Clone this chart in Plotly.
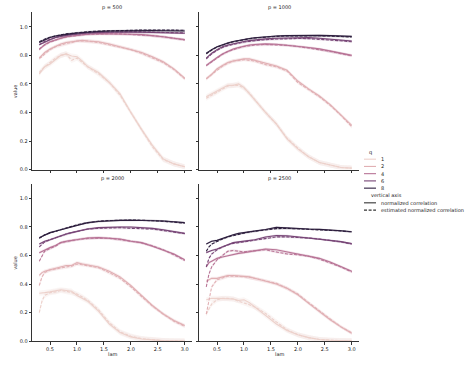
import numpy as np
import plotly.graph_objects as go

# ---------------- data ----------------
LAM = [0.3, 0.35, 0.4, 0.5, 0.6, 0.7, 0.8, 0.9, 1.0, 1.1, 1.2, 1.4, 1.6, 1.8, 2.0, 2.2, 2.4, 2.6, 2.8, 3.0]
P_VALUES = [500, 1000, 2000, 2500]
Q_VALUES = [1, 2, 4, 6, 8]
X_TICKS = [0.5, 1.0, 1.5, 2.0, 2.5, 3.0]
Y_TICKS = [0.0, 0.2, 0.4, 0.6, 0.8, 1.0]
STYLE_LABELS = ["normalized correlation", "estimated normalized correlation"]

P500_NORM = {
    1: [0.67, 0.70, 0.72, 0.74, 0.77, 0.80, 0.81, 0.795, 0.79, 0.76, 0.72, 0.68, 0.61, 0.53, 0.40, 0.28, 0.17, 0.075, 0.04, 0.02],
    2: [0.78, 0.80, 0.82, 0.845, 0.865, 0.88, 0.89, 0.895, 0.905, 0.905, 0.90, 0.895, 0.88, 0.86, 0.845, 0.82, 0.79, 0.755, 0.705, 0.64],
    4: [0.84, 0.86, 0.875, 0.895, 0.91, 0.92, 0.93, 0.935, 0.94, 0.945, 0.948, 0.952, 0.952, 0.95, 0.948, 0.945, 0.94, 0.93, 0.92, 0.91],
    6: [0.875, 0.885, 0.895, 0.91, 0.925, 0.935, 0.94, 0.945, 0.95, 0.953, 0.956, 0.96, 0.962, 0.963, 0.963, 0.962, 0.96, 0.958, 0.957, 0.955],
    8: [0.89, 0.90, 0.91, 0.925, 0.935, 0.942, 0.948, 0.952, 0.956, 0.96, 0.963, 0.967, 0.97, 0.972, 0.973, 0.973, 0.973, 0.972, 0.972, 0.97],
}
P500_EST = {
    1: [0.68, 0.70, 0.72, 0.75, 0.78, 0.80, 0.81, 0.765, 0.78, 0.75, 0.72, 0.67, 0.61, 0.52, 0.40, 0.28, 0.16, 0.07, 0.04, 0.02],
    2: [0.78, 0.79, 0.81, 0.84, 0.86, 0.875, 0.885, 0.89, 0.90, 0.90, 0.90, 0.89, 0.875, 0.86, 0.84, 0.815, 0.785, 0.75, 0.70, 0.635],
    4: [0.845, 0.86, 0.873, 0.893, 0.908, 0.92, 0.928, 0.935, 0.94, 0.944, 0.947, 0.95, 0.951, 0.95, 0.947, 0.944, 0.938, 0.93, 0.92, 0.908],
    6: [0.875, 0.887, 0.897, 0.912, 0.926, 0.936, 0.942, 0.947, 0.952, 0.955, 0.958, 0.962, 0.964, 0.965, 0.965, 0.964, 0.962, 0.96, 0.959, 0.957],
    8: [0.895, 0.905, 0.913, 0.927, 0.937, 0.944, 0.95, 0.955, 0.959, 0.963, 0.966, 0.97, 0.973, 0.975, 0.976, 0.977, 0.977, 0.977, 0.977, 0.976],
}

P1000_NORM = {
    1: [0.51, 0.52, 0.53, 0.55, 0.575, 0.59, 0.59, 0.60, 0.575, 0.53, 0.49, 0.40, 0.32, 0.215, 0.145, 0.09, 0.05, 0.03, 0.015, 0.01],
    2: [0.637, 0.65, 0.667, 0.706, 0.73, 0.75, 0.76, 0.77, 0.775, 0.775, 0.765, 0.745, 0.725, 0.695, 0.62, 0.565, 0.515, 0.455, 0.385, 0.31],
    4: [0.73, 0.745, 0.76, 0.785, 0.81, 0.83, 0.845, 0.855, 0.865, 0.872, 0.876, 0.88, 0.878, 0.872, 0.865, 0.855, 0.845, 0.83, 0.815, 0.80],
    6: [0.78, 0.80, 0.815, 0.84, 0.86, 0.872, 0.882, 0.89, 0.897, 0.903, 0.908, 0.915, 0.92, 0.923, 0.925, 0.924, 0.92, 0.915, 0.908, 0.90],
    8: [0.815, 0.83, 0.84, 0.86, 0.875, 0.887, 0.897, 0.905, 0.912, 0.918, 0.923, 0.93, 0.935, 0.938, 0.94, 0.94, 0.94, 0.938, 0.936, 0.933],
}
P1000_EST = {
    1: [0.50, 0.51, 0.52, 0.545, 0.565, 0.585, 0.59, 0.59, 0.57, 0.535, 0.49, 0.40, 0.32, 0.22, 0.15, 0.09, 0.05, 0.03, 0.015, 0.01],
    2: [0.635, 0.65, 0.665, 0.70, 0.725, 0.745, 0.76, 0.765, 0.77, 0.765, 0.76, 0.735, 0.72, 0.69, 0.61, 0.56, 0.51, 0.45, 0.38, 0.30],
    4: [0.728, 0.742, 0.757, 0.783, 0.807, 0.827, 0.842, 0.852, 0.862, 0.868, 0.872, 0.876, 0.875, 0.87, 0.862, 0.852, 0.842, 0.828, 0.812, 0.797],
    6: [0.775, 0.795, 0.81, 0.835, 0.855, 0.868, 0.878, 0.886, 0.893, 0.898, 0.903, 0.91, 0.914, 0.917, 0.918, 0.917, 0.913, 0.908, 0.902, 0.895],
    8: [0.81, 0.825, 0.837, 0.858, 0.873, 0.885, 0.895, 0.903, 0.91, 0.916, 0.921, 0.928, 0.933, 0.936, 0.938, 0.938, 0.937, 0.935, 0.932, 0.928],
}

P2000_NORM = {
    1: [0.336, 0.34, 0.34, 0.345, 0.35, 0.36, 0.355, 0.35, 0.32, 0.30, 0.28, 0.21, 0.12, 0.06, 0.03, 0.015, 0.008, 0.004, 0.002, 0.001],
    2: [0.46, 0.48, 0.49, 0.50, 0.51, 0.52, 0.53, 0.53, 0.55, 0.54, 0.535, 0.52, 0.49, 0.45, 0.39, 0.32, 0.25, 0.19, 0.145, 0.11],
    4: [0.62, 0.63, 0.64, 0.655, 0.67, 0.69, 0.70, 0.705, 0.713, 0.718, 0.722, 0.725, 0.722, 0.715, 0.70, 0.69, 0.665, 0.64, 0.61, 0.57],
    6: [0.68, 0.69, 0.70, 0.71, 0.725, 0.74, 0.75, 0.76, 0.77, 0.78, 0.785, 0.795, 0.80, 0.80, 0.80, 0.797, 0.79, 0.78, 0.768, 0.755],
    8: [0.725, 0.735, 0.745, 0.76, 0.77, 0.78, 0.795, 0.805, 0.815, 0.825, 0.83, 0.838, 0.843, 0.846, 0.847, 0.846, 0.845, 0.842, 0.836, 0.83],
}
P2000_EST = {
    1: [0.20, 0.28, 0.32, 0.34, 0.345, 0.355, 0.35, 0.34, 0.33, 0.31, 0.285, 0.22, 0.13, 0.065, 0.035, 0.018, 0.009, 0.004, 0.002, 0.001],
    2: [0.39, 0.45, 0.48, 0.50, 0.505, 0.515, 0.52, 0.525, 0.54, 0.535, 0.53, 0.515, 0.48, 0.44, 0.38, 0.31, 0.245, 0.19, 0.14, 0.105],
    4: [0.56, 0.60, 0.63, 0.65, 0.665, 0.69, 0.70, 0.705, 0.71, 0.715, 0.72, 0.722, 0.72, 0.712, 0.70, 0.688, 0.668, 0.64, 0.605, 0.565],
    6: [0.66, 0.68, 0.695, 0.71, 0.725, 0.74, 0.75, 0.76, 0.768, 0.778, 0.785, 0.79, 0.795, 0.795, 0.79, 0.79, 0.785, 0.775, 0.765, 0.753],
    8: [0.72, 0.735, 0.745, 0.758, 0.77, 0.782, 0.795, 0.805, 0.815, 0.823, 0.83, 0.84, 0.845, 0.848, 0.848, 0.847, 0.845, 0.84, 0.834, 0.826],
}

P2500_NORM = {
    1: [0.29, 0.295, 0.30, 0.30, 0.30, 0.30, 0.295, 0.285, 0.29, 0.27, 0.24, 0.18, 0.12, 0.075, 0.045, 0.025, 0.012, 0.006, 0.003, 0.002],
    2: [0.42, 0.43, 0.44, 0.44, 0.45, 0.46, 0.46, 0.458, 0.455, 0.45, 0.44, 0.42, 0.40, 0.37, 0.325, 0.265, 0.205, 0.15, 0.10, 0.055],
    4: [0.52, 0.55, 0.56, 0.58, 0.59, 0.60, 0.61, 0.615, 0.62, 0.625, 0.63, 0.645, 0.64, 0.625, 0.615, 0.60, 0.58, 0.555, 0.525, 0.49],
    6: [0.62, 0.63, 0.635, 0.645, 0.66, 0.68, 0.69, 0.695, 0.70, 0.705, 0.71, 0.73, 0.74, 0.738, 0.73, 0.725, 0.718, 0.71, 0.697, 0.683],
    8: [0.68, 0.69, 0.70, 0.706, 0.72, 0.735, 0.745, 0.755, 0.76, 0.767, 0.772, 0.782, 0.797, 0.792, 0.787, 0.785, 0.783, 0.78, 0.773, 0.766],
}
P2500_EST = {
    1: [0.19, 0.23, 0.26, 0.29, 0.30, 0.30, 0.295, 0.28, 0.27, 0.255, 0.24, 0.195, 0.135, 0.08, 0.045, 0.025, 0.012, 0.006, 0.003, 0.002],
    2: [0.19, 0.30, 0.38, 0.43, 0.44, 0.455, 0.455, 0.455, 0.452, 0.448, 0.44, 0.425, 0.405, 0.37, 0.33, 0.27, 0.21, 0.155, 0.10, 0.058],
    4: [0.38, 0.47, 0.52, 0.57, 0.60, 0.63, 0.635, 0.63, 0.625, 0.63, 0.635, 0.64, 0.625, 0.61, 0.605, 0.595, 0.575, 0.55, 0.52, 0.485],
    6: [0.52, 0.58, 0.61, 0.64, 0.66, 0.675, 0.685, 0.69, 0.695, 0.70, 0.705, 0.72, 0.73, 0.73, 0.728, 0.722, 0.715, 0.707, 0.695, 0.68],
    8: [0.63, 0.66, 0.68, 0.70, 0.715, 0.73, 0.74, 0.75, 0.758, 0.765, 0.77, 0.78, 0.788, 0.79, 0.787, 0.785, 0.783, 0.78, 0.772, 0.765],
}

# half-width of the confidence band per q
BAND_HALF = {1: 0.018, 2: 0.012, 4: 0.009, 6: 0.007, 8: 0.006}

PANELS = [
    (500, P500_NORM, P500_EST),
    (1000, P1000_NORM, P1000_EST),
    (2000, P2000_NORM, P2000_EST),
    (2500, P2500_NORM, P2500_EST),
]

# ---------------- style helpers ----------------
W, H = 468, 366
FONT = "DejaVu Sans"
FS = 5
TXT = "#1a1a1a"


def ch_color(t):
    """seaborn default 'ch:' cubehelix colormap"""
    x = 0.85 - 0.7 * t
    a = 0.8 * x * (1 - x) / 2
    phi = 2 * np.pi * (0.4 * x)
    r = x + a * (-0.14861 * np.cos(phi) + 1.78277 * np.sin(phi))
    g = x + a * (-0.29227 * np.cos(phi) - 0.90649 * np.sin(phi))
    b = x + a * (1.97294 * np.cos(phi))
    return tuple(int(round(255 * min(1, max(0, c)))) for c in (r, g, b))


qmin, qmax = min(Q_VALUES), max(Q_VALUES)
COLORS = {q: ch_color((q - qmin) / (qmax - qmin)) for q in Q_VALUES}


def rgb(c, a=None):
    if a is None:
        return "rgb(%d,%d,%d)" % c
    return "rgba(%d,%d,%d,%.2f)" % (c[0], c[1], c[2], a)


def px(x, y):
    return x / W, 1 - y / H


# panel pixel boxes (left, right, top, bottom)
BOX = {
    0: (32, 192, 12.6, 171),
    1: (199, 359, 12.6, 171),
    2: (32, 192, 185.6, 344),
    3: (199, 359, 185.6, 344),
}

fig = go.Figure()

for i, (p, norm, est) in enumerate(PANELS):
    xa = "x" if i == 0 else "x%d" % (i + 1)
    ya = "y" if i == 0 else "y%d" % (i + 1)
    for q in Q_VALUES:
        col = COLORS[q]
        for vals, dash in ((norm[q], "solid"), (est[q], "3px,1.6px")):
            v = np.array(vals)
            lo = v - BAND_HALF[q]
            hi = v + BAND_HALF[q]
            fig.add_trace(go.Scatter(
                x=LAM + LAM[::-1], y=list(hi) + list(lo[::-1]),
                fill="toself", fillcolor=rgb(col, 0.2), line=dict(width=0),
                hoverinfo="skip", showlegend=False, xaxis=xa, yaxis=ya,
            ))
            fig.add_trace(go.Scatter(
                x=LAM, y=vals, mode="lines",
                line=dict(color=rgb(col), width=1.1, dash=dash),
                showlegend=False, xaxis=xa, yaxis=ya,
            ))

axis_common = dict(
    showline=True, linecolor="#333", linewidth=0.8, showgrid=False, zeroline=False,
    ticks="outside", ticklen=2.5, tickwidth=0.7, tickcolor="#333",
    tickfont=dict(size=FS, family=FONT, color=TXT),
)

layout = dict(
    width=W, height=H, margin=dict(l=0, r=0, t=0, b=0),
    paper_bgcolor="white", plot_bgcolor="white",
    font=dict(family=FONT, size=FS, color=TXT),
    showlegend=False, hovermode=False,
)

for i in range(4):
    l, r, t, b = BOX[i]
    sx = "" if i == 0 else str(i + 1)
    layout["xaxis" + sx] = dict(
        axis_common, domain=[l / W, r / W], range=[0.165, 3.135],
        tickvals=X_TICKS, ticktext=["%.1f" % v for v in X_TICKS],
        showticklabels=(i >= 2), anchor="y" + sx,
    )
    layout["yaxis" + sx] = dict(
        axis_common, domain=[1 - b / H, 1 - t / H], range=[0, 1.1],
        tickvals=Y_TICKS, ticktext=["%.1f" % v for v in Y_TICKS],
        showticklabels=(i % 2 == 0), anchor="x" + sx,
    )

fig.update_layout(**layout)

ann = []
# facet titles
for i, (p, _, _) in enumerate(PANELS):
    l, r, t, b = BOX[i]
    x, y = px((l + r) / 2, t - 5.5)
    ann.append(dict(text="p = %d" % p, x=x, y=y, xref="paper", yref="paper",
                    showarrow=False, xanchor="center", yanchor="middle", font=dict(size=FS)))
# axis labels
for yy in (92, 265):
    x, y = px(15, yy)
    ann.append(dict(text="value", x=x, y=y, xref="paper", yref="paper", textangle=-90,
                    showarrow=False, xanchor="center", yanchor="middle", font=dict(size=FS)))
for xx in (112, 279):
    x, y = px(xx, 357)
    ann.append(dict(text="lam", x=x, y=y, xref="paper", yref="paper",
                    showarrow=False, xanchor="center", yanchor="middle", font=dict(size=FS)))

# legend (manual, seaborn style)
shapes = []
x, y = px(370, 153.3)
ann.append(dict(text="q", x=x, y=y, xref="paper", yref="paper", showarrow=False,
                xanchor="center", yanchor="middle", font=dict(size=FS)))
ly = 160.5
for q in Q_VALUES:
    x0, y0 = px(364, ly)
    x1, _ = px(376, ly)
    shapes.append(dict(type="line", xref="paper", yref="paper", x0=x0, x1=x1, y0=y0, y1=y0,
                       line=dict(color=rgb(COLORS[q]), width=1.1)))
    tx, ty = px(379, ly)
    ann.append(dict(text=str(q), x=tx, y=ty, xref="paper", yref="paper", showarrow=False,
                    xanchor="left", yanchor="middle", font=dict(size=FS)))
    ly += 7.3
x, y = px(368.5, ly)
ann.append(dict(text="vertical axis", x=x, y=y, xref="paper", yref="paper", showarrow=False,
                xanchor="left", yanchor="middle", font=dict(size=FS)))
ly += 7.5
for lab, dash in zip(STYLE_LABELS, ("solid", "3px,1.6px")):
    x0, y0 = px(364, ly)
    x1, _ = px(376, ly)
    shapes.append(dict(type="line", xref="paper", yref="paper", x0=x0, x1=x1, y0=y0, y1=y0,
                       line=dict(color="#333", width=1.1, dash=dash)))
    tx, ty = px(379, ly)
    ann.append(dict(text=lab, x=tx, y=ty, xref="paper", yref="paper", showarrow=False,
                    xanchor="left", yanchor="middle", font=dict(size=FS)))
    ly += 7.4

fig.update_layout(annotations=ann, shapes=shapes)
fig.write_html("out.html", config=dict(displayModeBar=False),
               post_script="document.body.style.margin='0';")
